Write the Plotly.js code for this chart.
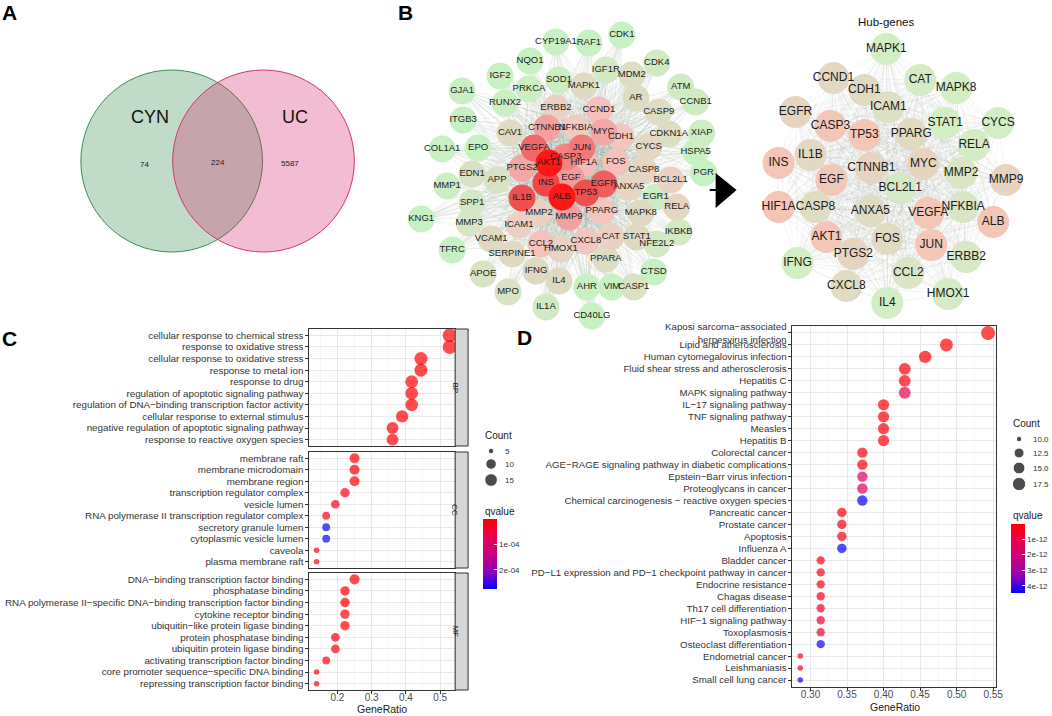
<!DOCTYPE html>
<html><head><meta charset="utf-8">
<script src="https://cdn.plot.ly/plotly-3.0.1.min.js"></script>
<style>html,body{margin:0;padding:0;background:#fff}#chart{width:1052px;height:716px}</style>
</head><body><div id="chart"></div>
<script>
// ---------------- Panel A: Venn ----------------
const vennSets = ['CYN', 'UC'];
const vennCounts = [74, 224, 5587];        // CYN only, shared, UC only
const vennCenterX = [172, 264];
const vennCenterY = [161, 161];
const vennRadius = [91, 91];

// ---------------- Panel B: PPI network ----------------
const netGenes = ['CYP19A1','RAF1','CDK1','NQO1','IGF2','SOD1','IGF1R','CDK4','GJA1','PRKCA',
 'RUNX2','ITGB3','COL1A1','EPO','MMP1','KNG1','SPP1','MMP3','TFRC','APOE',
 'MPO','IL1A','CD40LG','AHR','VIM','CASP1','CTSD','IKBKB','NFE2L2','RELA',
 'EGR1','PGR','HSPA5','XIAP','CCNB1','ATM','CDKN1A','CASP9','AR','MDM2',
 'MAPK1','CAV1','EDN1','APP','VCAM1','SERPINE1','IFNG','IL4','PPARA','STAT1',
 'MAPK8','CASP8','BCL2L1','CYCS','ANXA5','CAT','CXCL8','HMOX1','CCL2','ICAM1',
 'MMP2','PPARG','ERBB2','CCND1','CDH1','NFKBIA','FOS','HIF1A','MYC','CTNNB1',
 'PTGS2','MMP9','EGF','CASP3','JUN','VEGFA','EGFR','TP53','IL1B','INS','AKT1','ALB'];
const netX = [557,590,623,531,501,560,607,658,463,530,
 506,464,443,479,448,422,473,470,453,484,
 509,547,593,588,613,635,655,680,658,678,
 657,705,697,703,697,682,670,660,637,633,
 585,511,473,498,492,513,537,560,607,638,
 642,645,672,650,630,612,587,562,542,520,
 540,603,557,600,622,577,617,585,605,548,
 523,570,572,567,583,535,605,587,523,547,550,563];
const netY = [42,43,35,61,76,80,70,63,91,89,
 103,120,149,148,186,219,203,223,250,274,
 292,307,316,287,287,287,272,232,244,207,
 197,173,152,133,102,87,134,112,98,75,
 86,133,174,180,239,254,271,281,259,237,
 213,170,180,147,187,237,241,249,244,225,
 213,211,108,110,137,128,162,163,132,128,
 168,217,178,157,148,148,184,193,198,183,163,197];
const netScore = [0,0,0,0,0,0.05,0.12,0.1,0,0.05,
 0.05,0,0,0,0.05,0,0.12,0.15,0,0.2,
 0.2,0.1,0,0,0,0.2,0,0.1,0.12,0.38,
 0.05,0,0,0.05,0.08,0.1,0.25,0.25,0.25,0.25,
 0.28,0.28,0.22,0.2,0.3,0.3,0.3,0.3,0.25,0.3,
 0.3,0.4,0.45,0.35,0.4,0.45,0.55,0.42,0.58,0.45,
 0.45,0.55,0.45,0.6,0.55,0.5,0.58,0.62,0.68,0.7,
 0.68,0.7,0.72,0.78,0.8,0.83,0.85,0.88,0.88,0.9,1,1];

const hubGenes = ['MAPK1','CCND1','CAT','MAPK8','CDH1','ICAM1','EGFR','CASP3','STAT1','CYCS',
 'TP53','PPARG','RELA','INS','IL1B','MYC','CTNNB1','EGF','MMP2','MMP9',
 'BCL2L1','HIF1A','CASP8','ANXA5','VEGFA','NFKBIA','ALB','AKT1','FOS','JUN',
 'PTGS2','ERBB2','IFNG','CCL2','CXCL8','HMOX1','IL4'];
const hubX = [888,835,922,958,866,890,797,832,947,1000,
 866,913,976,780,812,925,873,833,963,1008,
 902,780,817,872,930,965,995,828,889,933,
 855,968,799,910,848,950,889];
const hubY = [49,78,80,88,90,107,112,126,123,123,
 135,134,145,163,155,164,168,180,173,180,
 188,207,207,211,213,207,222,237,239,245,
 254,257,263,273,286,294,303];
const hubScore = [0,0.5,0.05,0,0.45,0.3,0.6,0.95,0,0,
 1,0.45,0.05,1,0.5,0.65,0.6,0.95,0.2,0.6,
 0.1,1,0.4,0.4,1,0.2,1,1,0.45,1,
 0.6,0.15,0,0.2,0.4,0.05,0];

// ---------------- Panel C: GO enrichment ----------------
const bpTerms = ['cellular response to chemical stress','response to oxidative stress','cellular response to oxidative stress','response to metal ion','response to drug','regulation of apoptotic signaling pathway','regulation of DNA\u2212binding transcription factor activity','cellular response to external stimulus','negative regulation of apoptotic signaling pathway','response to reactive oxygen species'];
const bpRatio = [0.528,0.528,0.444,0.444,0.417,0.417,0.417,0.389,0.361,0.361];
const bpCount = [19,19,16,16,15,15,15,14,13,13];
const bpQ = [2e-7,3e-7,1e-6,2e-6,1e-6,3e-6,2e-6,4e-6,6e-6,8e-6];

const ccTerms = ['membrane raft','membrane microdomain','membrane region','transcription regulator complex','vesicle lumen','RNA polymerase II transcription regulator complex','secretory granule lumen','cytoplasmic vesicle lumen','caveola','plasma membrane raft'];
const ccRatio = [0.25,0.25,0.25,0.222,0.194,0.167,0.167,0.167,0.139,0.139];
const ccCount = [9,9,9,8,7,6,6,6,5,5];
const ccQ = [3e-6,3e-6,4e-6,2.2e-5,3e-5,2e-5,2.72e-4,2.72e-4,1.6e-5,1.6e-5];

const mfTerms = ['DNA\u2212binding transcription factor binding','phosphatase binding','RNA polymerase II\u2212specific DNA\u2212binding transcription factor binding','cytokine receptor binding','ubiquitin\u2212like protein ligase binding','protein phosphatase binding','ubiquitin protein ligase binding','activating transcription factor binding','core promoter sequence\u2212specific DNA binding','repressing transcription factor binding'];
const mfRatio = [0.25,0.222,0.222,0.222,0.222,0.194,0.194,0.167,0.139,0.139];
const mfCount = [9,8,8,8,8,7,7,6,5,5];
const mfQ = [1e-6,2e-6,3e-6,4e-6,6e-6,8e-6,1e-5,1.4e-5,1.6e-5,1.6e-5];

const goCountKeys = [5, 10, 15];
const goQTicks = [1e-4, 2e-4];

// ---------------- Panel D: KEGG enrichment ----------------
const keggTerms = ['Kaposi sarcoma\u2212associated<br>herpesvirus infection','Lipid and atherosclerosis','Human cytomegalovirus infection','Fluid shear stress and atherosclerosis','Hepatitis C','MAPK signaling pathway','IL\u221217 signaling pathway','TNF signaling pathway','Measles','Hepatitis B','Colorectal cancer','AGE\u2212RAGE signaling pathway in diabetic complications','Epstein\u2212Barr virus infection','Proteoglycans in cancer','Chemical carcinogenesis \u2212 reactive oxygen species','Pancreatic cancer','Prostate cancer','Apoptosis','Influenza A','Bladder cancer','PD\u2212L1 expression and PD\u22121 checkpoint pathway in cancer','Endocrine resistance','Chagas disease','Th17 cell differentiation','HIF\u22121 signaling pathway','Toxoplasmosis','Osteoclast differentiation','Endometrial cancer','Leishmaniasis','Small cell lung cancer'];
const keggRatio = [0.543,0.486,0.457,0.429,0.429,0.429,0.4,0.4,0.4,0.4,0.371,0.371,0.371,0.371,0.371,0.343,0.343,0.343,0.343,0.314,0.314,0.314,0.314,0.314,0.314,0.314,0.314,0.286,0.286,0.286];
const keggCount = [19,17,16,15,15,15,14,14,14,14,13,13,13,13,13,12,12,12,12,11,11,11,11,11,11,11,11,10,10,10];
const keggQ = [5e-14,5e-14,1e-13,1e-13,2e-13,1.1e-12,1e-13,1e-13,1.5e-13,2e-13,2e-13,2e-13,1.6e-12,1.5e-12,4.4e-12,2e-13,2e-13,5e-13,4.4e-12,2e-13,3e-13,3e-13,4e-13,6e-13,6e-13,8e-13,4.3e-12,1e-13,6e-13,4.4e-12];

const keggCountKeys = [10, 12.5, 15, 17.5];
const keggQTicks = [1e-12, 2e-12, 3e-12, 4e-12];

// ================= drawing =================
const W = 1052, H = 716;
const FR = '"Liberation Sans", Arial, sans-serif';
// reversed guide: low q (red) at the top of the bar -> plot -q
const BR = [[0,'#0000ff'],[0.25,'#9400b6'],[0.5,'#c7007f'],[0.75,'#ea0050'],[1,'#ff0000']];
const fx = v => v / W, fy = v => 1 - v / H;
const neg = a => a.map(v => -v);

function sizer(all){
  const mn = Math.min(...all), mx = Math.max(...all);
  return c => 5.5 + 8.5 * Math.sqrt(Math.max(0, (c - mn) / (mx - mn)));
}
const goAll = bpCount.concat(ccCount, mfCount);
const sizeGO = sizer(goAll);
const sizeKEGG = sizer(keggCount);

function edges(X, Y, keep){
  const ex = [], ey = [];
  for (let i = 0; i < X.length; i++) for (let j = i + 1; j < X.length; j++){
    if (keep(i, j)) { ex.push(X[i], X[j], null); ey.push(Y[i], Y[j], null); }
  }
  return {ex, ey};
}
const le = edges(netX, netY, (i, j) => netScore[i] >= 0.55 || netScore[j] >= 0.55);
const re = edges(hubX, hubY, () => true);

function order(score){ return score.map((s, i) => i).sort((a, b) => score[a] - score[b]); }
const lo = order(netScore), ho = order(hubScore);

const traces = [];
traces.push({type:'scatter', mode:'lines', x: le.ex, y: le.ey, xaxis:'x', yaxis:'y',
  line:{color:'rgba(150,165,150,0.22)', width:0.5}, hoverinfo:'skip', showlegend:false, cliponaxis:false});
traces.push({type:'scatter', mode:'lines', x: re.ex, y: re.ey, xaxis:'x', yaxis:'y',
  line:{color:'rgba(165,170,165,0.3)', width:0.4}, hoverinfo:'skip', showlegend:false, cliponaxis:false});
traces.push({type:'scatter', mode:'markers+text', xaxis:'x', yaxis:'y', cliponaxis:false, showlegend:false,
  x: lo.map(i => netX[i]), y: lo.map(i => netY[i]), text: lo.map(i => netGenes[i]),
  textposition:'middle center', textfont:{family:FR, size:9.5, color:'#1b1b1b'},
  marker:{size:27, color: lo.map(i => netScore[i]), cmin:0, cmax:1, line:{width:0},
    colorscale:[[0,'#c8f1c3'],[0.15,'#d6e6c4'],[0.3,'#dfd9c2'],[0.45,'#ebd1c3'],[0.6,'#f5bfbd'],[0.75,'#f29292'],[0.88,'#ee5050'],[1,'#ff1616']]}});
traces.push({type:'scatter', mode:'markers+text', xaxis:'x', yaxis:'y', cliponaxis:false, showlegend:false,
  x: ho.map(i => hubX[i]), y: ho.map(i => hubY[i]), text: ho.map(i => hubGenes[i]),
  textposition:'middle center', textfont:{family:FR, size:12, color:'#1b1b1b'},
  marker:{size:32, color: ho.map(i => hubScore[i]), cmin:0, cmax:1, line:{width:0},
    colorscale:[[0,'#d3edc5'],[0.5,'#e3d8c3'],[1,'#f3c6b7']]}});

// GO facets
const facets = [[bpTerms,bpRatio,bpCount,bpQ,'x2','y2'],[ccTerms,ccRatio,ccCount,ccQ,'x3','y3'],[mfTerms,mfRatio,mfCount,mfQ,'x4','y4']];
facets.forEach(f => traces.push({type:'scatter', mode:'markers', x:f[1], y:f[0], xaxis:f[4], yaxis:f[5],
  marker:{size:f[2].map(sizeGO), color:neg(f[3]), coloraxis:'coloraxis', line:{width:0}}, showlegend:false, cliponaxis:false}));
traces.push({type:'scatter', mode:'markers', x:keggRatio, y:keggTerms, xaxis:'x5', yaxis:'y5',
  marker:{size:keggCount.map(sizeKEGG), color:neg(keggQ), coloraxis:'coloraxis2', line:{width:0}}, showlegend:false, cliponaxis:false});

// size legends (guide keys on canvas)
const goKeyY = [451, 464, 480], keggKeyY = [439, 453, 468, 484];
traces.push({type:'scatter', mode:'markers', xaxis:'x', yaxis:'y', x: goCountKeys.map(() => 492), y: goKeyY,
  marker:{size: goCountKeys.map(sizeGO), color:'#000'}, showlegend:false, hoverinfo:'skip', cliponaxis:false});
traces.push({type:'scatter', mode:'markers', xaxis:'x', yaxis:'y', x: keggCountKeys.map(() => 1021), y: keggKeyY,
  marker:{size: keggCountKeys.map(sizeKEGG), color:'#000'}, showlegend:false, hoverinfo:'skip', cliponaxis:false});

const ann = [];
const A = (t, x, y, o) => ann.push(Object.assign({text:t, x, y, xref:'x', yref:'y', showarrow:false,
  font:{family:FR, size:10, color:'#1a1a1a'}}, o || {}));
A('A', 10, 12, {font:{family:FR, size:21, color:'#000', weight:'bold'}});
A('B', 406, 12, {font:{family:FR, size:21, color:'#000', weight:'bold'}});
A('C', 10, 338, {font:{family:FR, size:21, color:'#000', weight:'bold'}});
A('D', 525, 337, {font:{family:FR, size:21, color:'#000', weight:'bold'}});
A(vennSets[0], 150, 117, {font:{family:FR, size:18, color:'#111'}});
A(vennSets[1], 296, 117, {font:{family:FR, size:18, color:'#111'}});
A(String(vennCounts[0]), 145, 164, {font:{family:FR, size:8, color:'#222'}});
A(String(vennCounts[1]), 218, 162, {font:{family:FR, size:8, color:'#222'}});
A(String(vennCounts[2]), 291, 163, {font:{family:FR, size:8, color:'#222'}});
A('Hub-genes', 888, 22, {font:{family:FR, size:11.5, color:'#111'}});
A('GeneRatio', 383, 709, {font:{family:FR, size:10.5, color:'#1a1a1a'}});
A('GeneRatio', 897, 707, {font:{family:FR, size:10.5, color:'#1a1a1a'}});
A('Count', 484, 435, {xanchor:'left', font:{family:FR, size:10, color:'#1a1a1a'}});
A('qvalue', 484, 511, {xanchor:'left', font:{family:FR, size:10, color:'#1a1a1a'}});
goCountKeys.forEach((k, i) => A(String(k), 504, goKeyY[i], {xanchor:'left', font:{family:FR, size:8, color:'#333'}}));
A('Count', 1013, 423, {xanchor:'left', font:{family:FR, size:10, color:'#1a1a1a'}});
A('qvalue', 1013, 515, {xanchor:'left', font:{family:FR, size:10, color:'#1a1a1a'}});
keggCountKeys.forEach((k, i) => A(k.toFixed(1), 1033, keggKeyY[i], {xanchor:'left', font:{family:FR, size:8, color:'#333'}}));

const stripNames = ['BP','CC','MF'];
const shapes = [
  {type:'circle', xref:'x', yref:'y', x0:vennCenterX[0]-vennRadius[0], x1:vennCenterX[0]+vennRadius[0], y0:vennCenterY[0]-vennRadius[0], y1:vennCenterY[0]+vennRadius[0],
   fillcolor:'rgba(48,138,75,0.3)', line:{color:'#3d8f52', width:1}, layer:'below'},
  {type:'circle', xref:'x', yref:'y', x0:vennCenterX[1]-vennRadius[1], x1:vennCenterX[1]+vennRadius[1], y0:vennCenterY[1]-vennRadius[1], y1:vennCenterY[1]+vennRadius[1],
   fillcolor:'rgba(211,35,105,0.3)', line:{color:'#d4356e', width:1}, layer:'below'},
  {type:'path', xref:'x', yref:'y', path:'M717,173 L717,208 L738,190 Z', fillcolor:'#000', line:{width:0}},
  {type:'line', xref:'x', yref:'y', x0:711, x1:718, y0:190, y1:190, line:{color:'#000', width:2}}
];
['2','3','4'].forEach((k, i) => {
  shapes.push({type:'rect', xref:'x'+k+' domain', yref:'y'+k+' domain', x0:1, x1:1+13/146, y0:0, y1:1,
    fillcolor:'#d6d6d6', line:{color:'#333', width:1}});
  ann.push({text:stripNames[i], xref:'x'+k+' domain', yref:'y'+k+' domain', x:1+6.5/146, y:0.5, showarrow:false,
    textangle:90, font:{family:FR, size:8, color:'#1a1a1a'}});
});

const cDom = [fx(310), fx(456)];
const facetY = [[329,446],[452,568],[573,690]];
const gx = (anchor, labels) => ({domain:cDom, anchor, range:[0.118,0.544], tick0:0, dtick:0.1,
  showgrid:true, gridcolor:'#e9e9e9', gridwidth:1, zeroline:false,
  minor:{dtick:0.05, tick0:0, showgrid:true, gridcolor:'#f2f2f2', gridwidth:0.6},
  showline:true, mirror:true, linecolor:'#333', linewidth:1,
  ticks: labels ? 'outside' : '', ticklen:3, tickcolor:'#333', showticklabels:labels, ticklabelstandoff:-5,
  tickfont:{family:FR, size:10, color:'#4d4d4d'}, fixedrange:true});
const gy = (anchor, k, terms) => ({domain:[fy(facetY[k][1]), fy(facetY[k][0])], anchor, type:'category',
  categoryorder:'array', categoryarray:terms, range:[terms.length-1+0.55, -0.55],
  tickmode:'array', tickvals:terms, ticktext:terms,
  showgrid:true, gridcolor:'#e9e9e9', gridwidth:1, zeroline:false,
  showline:true, mirror:true, linecolor:'#333', linewidth:1,
  ticks:'outside', ticklen:3, tickcolor:'#333', tickfont:{family:FR, size:9.8, color:'#333'}, fixedrange:true});

const layout = {
  width:W, height:H, autosize:false, margin:{l:0,r:0,t:0,b:0},
  paper_bgcolor:'#fff', plot_bgcolor:'rgba(0,0,0,0)', showlegend:false,
  xaxis:{domain:[0,1], range:[0,W], visible:false, fixedrange:true, anchor:'y'},
  yaxis:{domain:[0,1], range:[H,0], visible:false, fixedrange:true, anchor:'x'},
  xaxis2:gx('y2', false), xaxis3:gx('y3', false), xaxis4:gx('y4', true),
  yaxis2:gy('x2', 0, bpTerms), yaxis3:gy('x3', 1, ccTerms), yaxis4:gy('x4', 2, mfTerms),
  xaxis5:{domain:[fx(794), fx(998)], anchor:'y5', range:[0.2754,0.554], tick0:0, dtick:0.05, tickformat:'.2f',
    showgrid:true, gridcolor:'#e9e9e9', zeroline:false,
    minor:{dtick:0.025, tick0:0, showgrid:true, gridcolor:'#f2f2f2', gridwidth:0.6},
    showline:true, mirror:true, linecolor:'#333', linewidth:1, ticks:'outside', ticklen:3, tickcolor:'#333', ticklabelstandoff:-5,
    tickfont:{family:FR, size:10, color:'#4d4d4d'}, fixedrange:true},
  yaxis5:{domain:[fy(687), fy(326)], anchor:'x5', type:'category', categoryorder:'array', categoryarray:keggTerms,
    tickmode:'array', tickvals:keggTerms, ticktext:keggTerms,
    range:[keggTerms.length-1+0.58, -0.58], showgrid:true, gridcolor:'#e9e9e9', zeroline:false,
    showline:true, mirror:true, linecolor:'#333', linewidth:1, ticks:'outside', ticklen:3, tickcolor:'#333',
    tickfont:{family:FR, size:9.7, color:'#333'}, fixedrange:true},
  coloraxis:{cmin:-2.76e-4, cmax:0, colorscale:BR, colorbar:{x:fx(484), xanchor:'left', xpad:0, y:fy(519), yanchor:'top', ypad:0,
    len:70, lenmode:'pixels', thickness:14, thicknessmode:'pixels', outlinewidth:0,
    tickmode:'array', tickvals:neg(goQTicks), ticktext:goQTicks.map(v => v.toExponential(0).replace('e-', 'e-0')),
    ticks:'inside', tickcolor:'#fff', ticklen:3, tickfont:{family:FR, size:8, color:'#333'}, title:{text:''}}},
  coloraxis2:{cmin:-4.45e-12, cmax:-4e-14, colorscale:BR, colorbar:{x:fx(1013), xanchor:'left', xpad:0, y:fy(524), yanchor:'top', ypad:0,
    len:69, lenmode:'pixels', thickness:14, thicknessmode:'pixels', outlinewidth:0,
    tickmode:'array', tickvals:neg(keggQTicks), ticktext:keggQTicks.map(v => v.toExponential(0)),
    ticks:'inside', tickcolor:'#fff', ticklen:3, tickfont:{family:FR, size:8, color:'#333'}, title:{text:''}}},
  shapes, annotations:ann
};

Plotly.newPlot('chart', traces, layout, {staticPlot:true, displayModeBar:false});
</script></body></html>
